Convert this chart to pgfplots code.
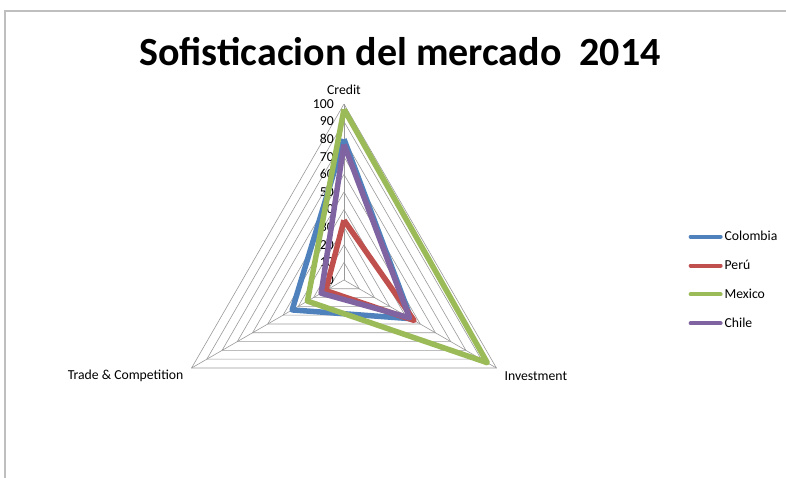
\documentclass[border=0pt]{standalone}
\usepackage{fontspec}
\setmainfont{Carlito}
\usepackage{pgfplots}
\pgfplotsset{compat=1.18}
\usepgfplotslibrary{polar}
\definecolor{cCol}{HTML}{4F81BD}
\definecolor{cPer}{HTML}{C0504D}
\definecolor{cMex}{HTML}{9BBB59}
\definecolor{cChi}{HTML}{8064A2}
\definecolor{gridc}{HTML}{999999}
\newcommand{\lblfont}{\fontsize{13.7}{16}\selectfont}
\begin{document}
\begin{tikzpicture}
\useasboundingbox (0pt,0pt) rectangle (786pt,478pt);
\draw[color=black!25, line width=1.2pt] (5pt,0pt) -- (5pt,467pt) -- (786pt,467pt);
\node[font=\fontsize{40}{48}\selectfont\bfseries] at (400pt,426pt) {Sofisticacion del mercado\ \ 2014};
\begin{polaraxis}[
  at={(344pt,198pt)}, anchor=center,
  width=352pt, height=352pt, scale only axis,
  hide axis, ymin=0, ymax=100, clip=false,
  legend style={draw=none, fill=none, at={(1.47,0.5)}, anchor=west,
    font=\lblfont, row sep=14pt},
  legend cell align=left,
  legend image code/.code={\draw[#1, line width=4pt, line cap=round] (0pt,0pt) -- (30pt,0pt);},
]
\pgfplotsinvokeforeach{10,20,30,40,50,60,70,80,90,100}{
  \addplot[gridc, line width=0.6pt, forget plot] coordinates {(90,#1) (330,#1) (210,#1) (90,#1)};
}
\addplot[gridc, line width=0.6pt, forget plot] coordinates {(90,0) (90,100)};
\addplot[gridc, line width=0.6pt, forget plot] coordinates {(330,0) (330,100)};
\addplot[gridc, line width=0.6pt, forget plot] coordinates {(210,0) (210,100)};
\pgfplotsinvokeforeach{0,10,20,30,40,50,60,70,80,90,100}{
  \node[anchor=east, font=\lblfont, inner sep=0pt, xshift=-10pt] at (axis cs:90,#1) {#1};
}
\node[anchor=south, font=\lblfont, inner sep=0pt, yshift=9pt] at (axis cs:90,100) {Credit};
\node[anchor=east, font=\lblfont, inner sep=0pt, xshift=-8pt, yshift=-8pt] at (axis cs:210,100) {Trade \& Competition};
\node[anchor=west, font=\lblfont, inner sep=0pt, xshift=8pt, yshift=-8pt] at (axis cs:330,100) {Investment};
\addplot[cCol, line width=5.5pt, line join=round] coordinates {(90,80) (330,44) (210,34) (90,80)};
\addlegendentry{Colombia}
\addplot[cPer, line width=5.5pt, line join=round] coordinates {(90,34) (330,46) (210,12) (90,34)};
\addlegendentry{Perú}
\addplot[cMex, line width=5.5pt, line join=round] coordinates {(90,97) (330,94) (210,24) (90,97)};
\addlegendentry{Mexico}
\addplot[cChi, line width=5.5pt, line join=round] coordinates {(90,77) (330,43) (210,15) (90,77)};
\addlegendentry{Chile}
\end{polaraxis}
\end{tikzpicture}
\end{document}
